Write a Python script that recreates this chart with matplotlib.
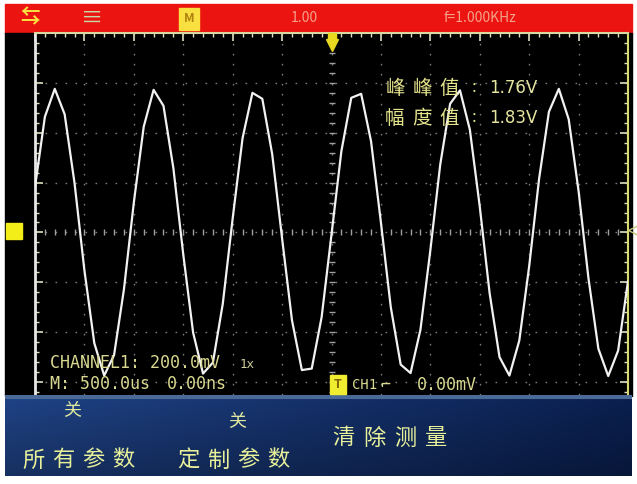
# scope_capture.py
# Oscilloscope screen capture: 1 kHz sine on CH1 with measurement overlay

import numpy as np
import matplotlib.pyplot as plt
from matplotlib.patches import Rectangle
from matplotlib.colors import to_rgb

plt.rcParams['font.family'] = ['Noto Sans CJK SC', 'DejaVu Sans']

# trace samples (time in div, voltage in div)
time_div = [round(0.2 * k, 1) for k in range(61)]
volt_div = [0.91, 2.32, 2.88, 2.37, 0.99, -0.76, -2.22, -2.87, -2.46, -1.14,
            0.60, 2.12, 2.86, 2.54, 1.29, -0.44, -2.01, -2.83, -2.61, -1.43,
            0.28, 1.89, 2.80, 2.68, 1.57, -0.12, -1.76, -2.76, -2.73, -1.70,
            -0.04, 1.63, 2.70, 2.78, 1.83, 0.20, -1.50, -2.65, -2.82, -1.95,
            -0.36, 1.36, 2.58, 2.85, 2.06, 0.52, -1.22, -2.50, -2.87, -2.17,
            -0.68, 1.07, 2.42, 2.88, 2.27, 0.83, -0.92, -2.33, -2.88, -2.37,
            -0.98]

meas_labels = ['峰峰值', '幅度值']
meas_values = ['1.76V', '1.83V']
menu_top = ['关', '关', '']
menu_bottom = ['所有参数', '定制参数', '清除测量']
channel_info = 'CHANNEL1: 200.0mV'
probe_info = '1x'
time_info = 'M: 500.0us'
delay_info = '0.00ns'
trig_src = 'CH1'
trig_level = '0.00mV'

W, H = 637, 484
fig = plt.figure(figsize=(W / 100, H / 100), dpi=100, facecolor='white')

# background layer in pixel coords
bg = fig.add_axes([0, 0, 1, 1], zorder=0)
bg.set_xlim(0, W); bg.set_ylim(H, 0); bg.axis('off')
bg.add_patch(Rectangle((5, 4), 627, 30, color='#ec1410'))
bg.add_patch(Rectangle((5, 33), 627, 363, color='black'))

# scope graticule + trace
x0, x1, y0, y1 = 35, 628, 33, 395
ax = fig.add_axes([x0 / W, 1 - y1 / H, (x1 - x0) / W, (y1 - y0) / H], zorder=1)
ax.set_facecolor('none')
ax.set_xlim(0, 12)
ax.set_ylim(-3.26, 4.0)
for xv in range(1, 12):
    ax.axvline(xv, color='#7a7a7a', lw=1.0, ls=(0, (1.2, 6.0)), zorder=1)
for yv in range(-3, 4):
    ax.axhline(yv, color='#7a7a7a', lw=1.0, ls=(0, (1.2, 6.0)), zorder=1)
# centre axes with fine ticks
minor = np.arange(0, 12.01, 0.2)
ax.plot(minor, np.zeros_like(minor), ls='none', marker='|', ms=5,
        color='#a0a0a0', mew=1, zorder=1)
minor_v = np.arange(-3.2, 4.0, 0.2)
ax.plot(np.full_like(minor_v, 6.0), minor_v, ls='none', marker='_', ms=5,
        color='#a0a0a0', mew=1, zorder=1)

ax.plot(time_div, volt_div, color='#f2f2f2', lw=1.6, zorder=3,
        solid_joinstyle='round')

ax.spines['bottom'].set_visible(False)
ax.spines['left'].set_color('#e8e8e8'); ax.spines['left'].set_linewidth(2)
ax.spines['top'].set_color('#d8d8a0'); ax.spines['top'].set_linewidth(1.5)
ax.spines['right'].set_color('#d8d870'); ax.spines['right'].set_linewidth(1.5)
ax.set_xticks(np.arange(0, 12.01, 1.0))
ax.set_xticks(np.arange(0, 12.01, 0.2), minor=True)
ax.set_yticks(np.arange(-3, 4.01, 1.0))
ax.set_yticks(np.arange(-3.2, 4.0, 0.2), minor=True)
ax.tick_params(which='both', direction='in', top=True, bottom=False,
               left=True, right=True, labelleft=False, labelbottom=False,
               colors='#e0e0c0')
ax.tick_params(which='major', length=6, width=1.2)
ax.tick_params(which='minor', length=3, width=1)

# ground / trigger markers
ax.plot([-0.42], [0.02], marker='s', ms=12, color='#f4ee18', clip_on=False, zorder=4)
ax.plot([6.0], [3.75], marker='v', ms=9, color='#e8d820', clip_on=False, zorder=4)
ax.plot([6.0], [3.92], marker='s', ms=6, color='#e8d820', clip_on=False, zorder=4)
ax.plot([12.1], [0.05], marker='<', ms=7, mfc='none', mec='#c8c870',
        clip_on=False, zorder=4)

# foreground layer: overlays, top bar icons, menu
fg = fig.add_axes([0, 0, 1, 1], zorder=2)
fg.axis('off'); fg.patch.set_alpha(0)

# top status bar
fg.text(30, 18, '⇆', color='#f8e040', fontsize=14, ha='center', va='center',
        fontweight='bold')
fg.text(92, 18, '≡', color='#c8d8a8', fontsize=16, ha='center', va='center')
fg.add_patch(Rectangle((179, 8), 20, 22, color='#f8e040'))
fg.text(189, 19, 'M', color='#b08010', fontsize=9, ha='center', va='center',
        fontweight='bold')
fg.text(304, 18, '1.00', color='#f5a088', fontsize=10, ha='center', va='center')
fg.text(480, 18, 'f=1.000KHz', color='#f5a088', fontsize=10, ha='center',
        va='center')

# measurements
meas_y = [88, 118]
for lab, val, yy in zip(meas_labels, meas_values, meas_y):
    for i, ch in enumerate(lab):
        fg.text(395 + 27 * i, yy, ch, color='#e4e48c', fontsize=14,
                ha='center', va='center')
    fg.text(474, yy, ':', color='#e4e48c', fontsize=12, ha='center', va='center')
    fg.text(489, yy, val, color='#e4e4a0', fontsize=12, ha='left', va='center',
            family='DejaVu Sans')

# channel info
mono = 'DejaVu Sans Mono'
info_col = '#d8d890'
fg.text(50, 363, channel_info, color=info_col, fontsize=12, family=mono,
        va='center')
fg.text(240, 364, probe_info, color='#d0d0a0', fontsize=9, family=mono,
        va='center')
fg.text(50, 384, time_info, color=info_col, fontsize=12, family=mono,
        va='center')
fg.text(167, 384, delay_info, color=info_col, fontsize=12, family=mono,
        va='center')
fg.add_patch(Rectangle((330, 375), 16, 19, color='#f0ec30', zorder=3))
fg.text(338, 384, 'T', color='#806000', fontsize=9, ha='center', va='center',
        fontweight='bold', zorder=4)
fg.text(352, 385, trig_src, color=info_col, fontsize=10, family=mono,
        va='center')
fg.text(385, 385, '⌐', color=info_col, fontsize=12, family=mono,
        ha='center', va='center')
fg.text(417, 385, trig_level, color=info_col, fontsize=12, family=mono,
        va='center')

# soft key menu: blue panel, lighter on the left and at the top edge
left_c = np.array(to_rgb('#1e4080'))
right_c = np.array(to_rgb('#0a1e4c'))
hx = np.linspace(0, 1, 200)[None, :, None]
vy = np.linspace(0, 1, 80)[:, None, None]
panel = left_c * (1 - hx) + right_c * hx
panel = panel * (1.05 - 0.3 * vy)
panel[:4] = np.array(to_rgb('#4a6a98'))
fg.imshow(np.clip(panel, 0, 1), extent=(5, 632, 476, 395), aspect='auto',
          zorder=1, interpolation='bilinear')
fg.set_xlim(0, W); fg.set_ylim(H, 0)

menu_start = [33, 188, 343]
menu_step = [30, 30, 31]
top_x = [72, 237, 0]
top_y = [411, 422, 0]
bot_y = [460, 460, 438]
menu_col = '#e8f09a'
for sx, st, tx, ty, by, t1, t2 in zip(menu_start, menu_step, top_x, top_y,
                                      bot_y, menu_top, menu_bottom):
    if t1:
        fg.text(tx, ty, t1, color='#e0e8a0', fontsize=13, ha='center',
                va='center', zorder=3)
    for i, ch in enumerate(t2):
        fg.text(sx + st * i, by, ch, color=menu_col, fontsize=16,
                ha='center', va='center', zorder=3)

fig.savefig('out.png', dpi=100, facecolor='white')
